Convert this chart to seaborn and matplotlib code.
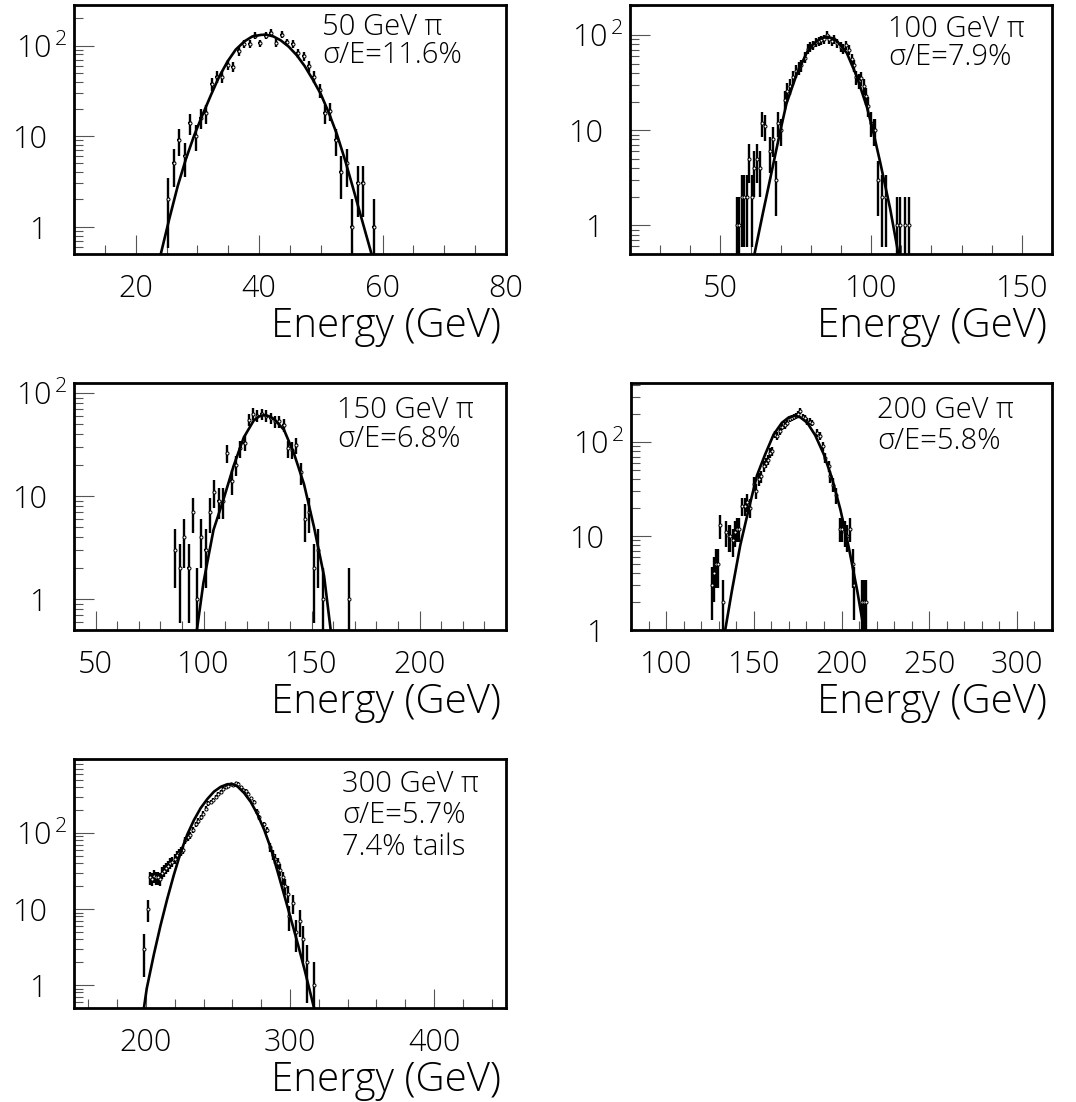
import numpy as np
import matplotlib
matplotlib.use("Agg")
import matplotlib.pyplot as plt
import seaborn as sns
from matplotlib import font_manager as fm
from matplotlib.ticker import FixedLocator, LogLocator, NullFormatter
from matplotlib.transforms import ScaledTranslation

# --- 50 GeV pions ---
e50 = [25.31, 26.19, 27.06, 27.94, 28.81, 29.69, 30.56, 31.44, 32.31, 33.19,
       34.06, 34.94, 35.81, 36.69, 37.56, 38.44, 39.31, 40.19, 41.06, 41.94,
       42.81, 43.69, 44.56, 45.44, 46.31, 47.19, 48.06, 48.94, 49.81, 50.69,
       51.56, 52.44, 53.31, 54.19, 55.06, 55.94, 56.81, 58.56]
n50 = [2, 5, 9, 6, 14, 10, 16, 18, 38, 45, 45, 61, 58, 86, 104, 104, 128, 106, 128, 139,
       107, 132, 108, 104, 82, 77, 59, 45, 32, 18, 19, 9, 4, 5, 1, 3, 3, 1]
fit50_e = [23.9, 25.4, 26.8, 28.1, 29.5, 30.8, 32.2, 33.5, 34.9, 36.2, 37.6, 38.9, 40.3,
           41.1, 42.3, 43.5, 44.8, 46.1, 47.4, 48.7, 50.0, 51.3, 52.6, 53.9, 55.2, 56.5, 58.4]
fit50_n = [0.45, 1.19, 2.8, 5.5, 10.3, 17, 28.5, 45, 67, 90, 111, 126, 131,
           132, 126, 114, 97, 78, 59, 42, 29, 18, 10.5, 5.5, 2.7, 1.3, 0.45]

# --- 100 GeV pions ---
e100 = [55.4, 56.2, 57.1, 57.9, 58.7, 59.5, 60.4, 61.3, 62.2, 63.0, 63.9, 64.8, 66.5, 67.4,
        68.3, 69.2, 70.0, 71.4, 72.2, 73.0, 74.1, 75.2, 76.1, 76.8, 77.9, 79.0, 79.8, 80.7,
        81.7, 82.6, 83.4, 84.5, 85.2, 86.1, 87.0, 87.8, 88.8, 89.9, 90.7, 91.5, 92.6, 93.5,
        94.2, 95.1, 95.9, 96.7, 97.5, 98.3, 99.1, 100.0, 100.8, 101.3, 102.4, 103.5, 105.0,
        108.7, 109.5, 111.1, 112.7]
n100 = [1, 1, 2, 2, 2, 5, 2, 4, 5, 4, 12, 11, 6, 8,
        3, 12, 10, 21, 26, 29, 36, 42, 45, 48, 58, 72, 75, 78,
        84, 87, 88, 90, 100, 90, 87, 90, 82, 75, 72, 78, 70, 56,
        48, 36, 33, 35, 29, 23, 18, 12, 10, 10, 3, 2, 2,
        1, 1, 1, 1]
fit100_e = [61.0, 64.1, 67.4, 69.7, 71.9, 75.2, 78.6, 80.2, 81.9, 83.6, 85.2, 86.9,
            88.6, 91.9, 95.2, 98.6, 100.8, 103.0, 106.3, 109.3]
fit100_n = [0.45, 1.35, 4.2, 9.3, 19, 38, 65, 77, 86, 93, 96, 93,
            87, 65, 37, 17.5, 9.3, 4.6, 1.5, 0.45]

# --- 150 GeV pions ---
e150 = [86.8, 89.1, 91.0, 93.1, 95.0, 97.0, 99.0, 101.0, 103.0, 105.0, 106.9, 108.9,
        110.9, 113.0, 115.0, 117.0, 119.0, 121.0, 122.9, 124.9, 126.9, 129.0, 131.0, 133.0,
        135.0, 137.0, 139.0, 141.0, 143.0, 145.0, 147.0, 149.0, 151.1, 153.1, 155.2, 167.3]
n150 = [3, 2, 4, 2, 7, 1, 4, 3, 7, 11, 9, 9,
        26, 14, 20, 29, 33, 55, 63, 60, 62, 60, 57, 53,
        53, 49, 29, 28, 31, 17, 6, 7, 2, 3, 1, 1]
fit150_e = [96.6, 99.9, 104.6, 109.3, 113.9, 118.6, 123.2, 125.5, 127.9, 130.2, 132.5,
            137.2, 141.8, 146.5, 151.1, 155.8, 159.1]
fit150_n = [0.45, 1.43, 4.7, 9.4, 19.6, 37, 54, 59, 61, 59.5, 56,
            44, 26, 13, 5, 1.66, 0.45]

# --- 200 GeV pions ---
e200 = [125.9, 127.2, 128.3, 129.6, 130.9, 132.4, 134.3, 135.6, 136.7, 138.0, 139.3, 140.7,
        141.7, 143.5, 144.8, 145.9, 148.1, 150.0, 151.3, 152.8, 154.1, 155.6, 156.9, 158.0,
        159.3, 160.6, 162.0, 163.3, 164.8, 166.1, 167.6, 169.1, 170.4, 171.7, 173.1, 174.3,
        175.4, 176.5, 177.8, 179.3, 180.6, 181.9, 183.3, 186.1, 187.6, 189.2, 190.7, 192.6,
        193.5, 195.4, 196.9, 199.1, 200.4, 201.9, 203.1, 204.6, 206.5, 207.4, 211.7, 213.0,
        213.9]
n200 = [3, 4, 5, 5, 13, 2, 11, 10, 10, 9, 11, 12,
        12, 21, 21, 23, 20, 36, 30, 40, 43, 55, 60, 65,
        77, 80, 120, 116, 130, 145, 150, 160, 175, 180, 185, 190,
        200, 215, 185, 180, 165, 165, 160, 125, 116, 90, 68, 55,
        43, 35, 27, 12, 12, 11, 10, 12, 5, 3, 2, 2,
        2]
fit200_e = [133.5, 137.5, 142.3, 147.0, 151.8, 156.5, 161.3, 166.0, 170.0, 173.2, 176.5,
            180.5, 185.0, 189.9, 194.6, 199.4, 204.0, 209.0, 213.0]
fit200_n = [0.95, 2.6, 8, 19, 44, 74, 120, 160, 183, 190, 183,
            160, 118, 74, 41, 19, 7.8, 2.6, 0.95]

# --- 300 GeV pions ---
e300 = [198.8, 201.2, 203.0, 204.2, 205.4, 206.8, 208.2, 209.6, 211.2, 212.3, 213.8, 215.2,
        216.5, 218.2, 219.8, 221.2, 222.8, 224.0, 225.8, 227.4, 229.1, 230.9, 232.8, 234.4,
        236.3, 237.9, 239.8, 241.4, 243.0, 244.9, 246.8, 248.4, 250.0, 251.9, 253.7, 255.4,
        257.0, 258.9, 260.7, 262.4, 264.0, 265.9, 267.7, 269.4, 271.0, 272.9, 274.7, 277.1,
        278.7, 281.7, 284.0, 286.4, 288.0, 289.6, 291.5, 293.3, 295.0, 296.6, 298.4, 299.6,
        301.9, 304.2, 306.6, 308.9, 311.9, 317.0]
n300 = [3, 10, 26, 25, 27, 26, 26, 25, 30, 32, 35, 37,
        40, 42, 46, 51, 54, 57, 60, 80, 88, 94, 110, 130,
        145, 160, 180, 210, 245, 255, 275, 300, 330, 345, 380, 400,
        410, 435, 425, 450, 445, 400, 370, 355, 330, 285, 255, 190,
        160, 130, 110, 65, 52, 46, 40, 33, 26, 20, 16, 8,
        12, 5, 7, 4, 2, 1]
fit300_e = [198.2, 200.5, 205.4, 210.0, 214.7, 219.3, 224.0, 228.6, 233.3, 237.9, 242.6,
            247.2, 251.9, 256.5, 260.0, 263.5, 268.2, 272.8, 277.5, 282.1, 286.8, 291.4,
            296.1, 300.8, 305.4, 310.1, 317.3]
fit300_n = [0.45, 0.9, 2.5, 6, 13.5, 28, 55, 95, 148, 212, 280,
            350, 405, 438, 440, 410, 335, 255, 175, 110, 62, 31,
            15, 7.2, 3.5, 1.6, 0.45]

labels_beam = ["50 GeV π", "100 GeV π", "150 GeV π", "200 GeV π", "300 GeV π"]
labels_res = ["σ/E=11.6%", "σ/E=7.9%", "σ/E=6.8%", "σ/E=5.8%", "σ/E=5.7%"]
label_tails = "7.4% tails"

sns.set_theme(style="ticks")

# a light sans face reads closer to the thin plotter font of the original
FAM, WT = "DejaVu Sans", "normal"
for fam in ["Noto Sans", "Open Sans", "Lato", "Roboto", "Inter"]:
    hits = [f for f in fm.fontManager.ttflist
            if f.name in (fam, fam + " Light") and f.style == "normal" and f.weight == 300]
    if hits:
        FAM = hits[0].name
        WT = 300 if FAM == fam else "normal"
        break

plt.rcParams["font.family"] = [FAM, "DejaVu Sans"]
plt.rcParams["font.weight"] = WT
plt.rcParams["axes.labelweight"] = WT
plt.rcParams["mathtext.fontset"] = "custom"
plt.rcParams["mathtext.rm"] = f"{FAM}:weight={WT}"
plt.rcParams["text.color"] = "black"
plt.rcParams["axes.labelcolor"] = "black"

W, H = 1076, 1102
fig = plt.figure(figsize=(W / 100, H / 100), dpi=100)

# ty = baseline of the last annotation line (pixels from the top)
panels = [
    dict(box=(74, 5, 506, 254), e=e50, n=n50, fe=fit50_e, fn=fit50_n, xlim=(10, 80),
         ylim=(0.5, 280), major=[20, 40, 60, 80], minor=np.arange(15, 80, 5), hx=0.3,
         tx=322, ty=63, ls=0.92),
    dict(box=(630, 5, 1052, 254), e=e100, n=n100, fe=fit100_e, fn=fit100_n, xlim=(20, 160),
         ylim=(0.5, 207), major=[50, 100, 150], minor=np.arange(30, 160, 10), hx=0.3,
         tx=888, ty=65, ls=0.95),
    dict(box=(74, 383, 506, 630), e=e150, n=n150, fe=fit150_e, fn=fit150_n, xlim=(40, 240),
         ylim=(0.5, 125), major=[50, 100, 150, 200], minor=np.arange(50, 240, 10), hx=0.6,
         tx=337, ty=447, ls=0.99),
    dict(box=(631, 383, 1052, 630), e=e200, n=n200, fe=fit200_e, fn=fit200_n, xlim=(80, 320),
         ylim=(1, 424), major=[100, 150, 200, 250, 300], minor=np.arange(90, 320, 10), hx=0.45,
         tx=877, ty=449, ls=1.05),
    dict(box=(74, 759, 506, 1008), e=e300, n=n300, fe=fit300_e, fn=fit300_n, xlim=(150, 450),
         ylim=(0.5, 940), major=[200, 300, 400], minor=np.arange(160, 450, 20), hx=0.5,
         tx=342, ty=855, ls=1.10),
]

for i, p in enumerate(panels):
    l, t, r, b = p["box"]
    w, h = r - l, b - t
    ax = fig.add_axes([l / W, 1 - b / H, w / W, h / H])
    ax.set_yscale("log")

    n = np.array(p["n"], dtype=float)
    ax.errorbar(p["e"], n, yerr=np.sqrt(n), xerr=p["hx"], fmt="o", ms=2.2,
                mfc="white", mec="black", mew=0.7, ecolor="black", elinewidth=1.7,
                capsize=0, zorder=3)
    sns.lineplot(x=p["fe"], y=p["fn"], ax=ax, color="black", lw=1.9, sort=False,
                 estimator=None, legend=False, zorder=4)

    ax.set_xlim(*p["xlim"])
    ax.set_ylim(*p["ylim"])
    ax.xaxis.set_major_locator(FixedLocator(p["major"]))
    ax.xaxis.set_minor_locator(FixedLocator(p["minor"]))
    ax.set_xticklabels([str(v) for v in p["major"]])
    ax.set_yticks([1, 10, 100], labels=["1", "10", "$10^{\\,2}$"])
    ax.yaxis.set_minor_locator(LogLocator(base=10, subs=np.arange(2, 10)))
    ax.yaxis.set_minor_formatter(NullFormatter())

    ax.tick_params(which="both", direction="in", color="#555555", width=0.8,
                   top=False, right=False, labelsize=22, labelcolor="black")
    ax.tick_params(axis="x", which="major", length=13.5, pad=14)
    ax.tick_params(axis="x", which="minor", length=6.5)
    ax.tick_params(axis="y", which="major", length=14.5, pad=19)
    ax.tick_params(axis="y", which="minor", length=6.5)
    for s in ax.spines.values():
        s.set_linewidth(2.0)
        s.set_color("black")
        s.set_visible(True)
    ax.set_ylabel("")

    ax.set_xlabel("Energy (GeV)", fontsize=29, loc="right", color="black", fontweight=WT)
    ax.xaxis.label.set_va("baseline")
    ax.xaxis.set_label_coords(1 - 5 / w, -83 / h)

    lines = [labels_beam[i], labels_res[i]]
    if i == 4:
        lines.append(label_tails)
    ax.text((p["tx"] - l) / w, 1 - (p["ty"] - t) / h, "\n".join(lines),
            transform=ax.transAxes, ha="left", va="baseline", fontsize=21,
            linespacing=p["ls"], color="black")

    for tk, loc in zip(ax.yaxis.get_major_ticks(), ax.yaxis.get_majorticklocs()):
        if loc == 100:
            tk.label1.set_transform(tk.label1.get_transform() +
                                    ScaledTranslation(20 / 100, 0, fig.dpi_scale_trans))

fig.savefig("out.png", dpi=100)
